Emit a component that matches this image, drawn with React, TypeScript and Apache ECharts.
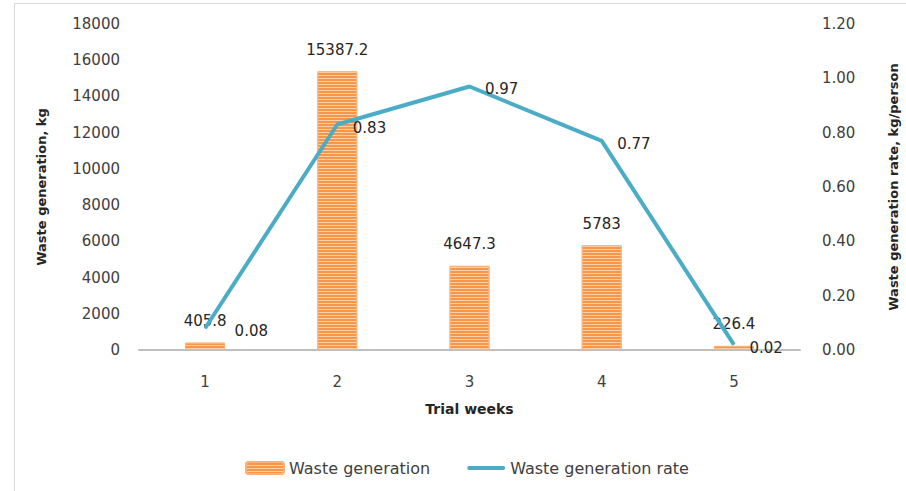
import React, { useEffect, useRef } from "react";
import * as echarts from "echarts";

const categories = ["1", "2", "3", "4", "5"];
const wasteGeneration = [405.8, 15387.2, 4647.3, 5783, 226.4];
const wasteRate = [0.08, 0.83, 0.97, 0.77, 0.02];

const FONT = "DejaVu Sans";
const TXT = "#404040";

export default function App() {
  const ref = useRef<HTMLDivElement>(null);
  useEffect(() => {
    if (!ref.current) return;
    const chart = echarts.init(ref.current, null, { renderer: "svg" });
    chart.setOption({
      animation: false,
      backgroundColor: "#ffffff",
      textStyle: { fontFamily: FONT },
      graphic: [
        {
          type: "rect",
          shape: { x: 14.5, y: 3.5, width: 1200, height: 1200 },
          style: { fill: "none", stroke: "#D9D9D9", lineWidth: 1 },
          silent: true,
          z: -1,
        },
      ],
      grid: { left: 139, right: 106, top: 24, bottom: 141, outerBoundsMode: "none" },
      legend: {
        left: 240,
        top: 455,
        itemWidth: 38,
        itemHeight: 12,
        itemGap: 37,
        symbolKeepAspect: true,
        textStyle: { fontFamily: FONT, fontSize: 16, color: TXT },
        data: [
          { name: "Waste generation" },
          {
            name: "Waste generation rate",
            icon: "path://M2,0H36A2,2 0 0 1 36,4H2A2,2 0 0 1 2,0Z",
            itemStyle: { color: "#4BACC6" },
          },
        ],
      },
      xAxis: {
        type: "category",
        data: categories,
        name: "Trial weeks",
        nameLocation: "middle",
        nameGap: 52,
        nameTextStyle: { fontFamily: FONT, fontSize: 14, fontWeight: "bold", color: "#262626" },
        axisLine: { lineStyle: { color: "#BFBFBF", width: 2 } },
        axisTick: { show: false },
        axisLabel: { fontFamily: FONT, fontSize: 15, color: TXT, margin: 24 },
      },
      yAxis: [
        {
          type: "value",
          min: 0,
          max: 18000,
          interval: 2000,
          name: "Waste generation, kg",
          nameLocation: "middle",
          nameGap: 91,
          nameRotate: 90,
          nameTextStyle: { fontFamily: FONT, fontSize: 13, fontWeight: "bold", color: "#262626" },
          axisLine: { show: false },
          axisTick: { show: false },
          splitLine: { show: false },
          axisLabel: {
            fontFamily: FONT,
            fontSize: 15,
            color: TXT,
            margin: 19,
            formatter: (v: number) => String(v),
          },
        },
        {
          type: "value",
          min: 0,
          max: 1.2,
          interval: 0.2,
          name: "Waste generation rate, kg/person",
          nameLocation: "middle",
          nameGap: 87,
          nameRotate: 90,
          nameTextStyle: { fontFamily: FONT, fontSize: 13, fontWeight: "bold", color: "#262626" },
          axisLine: { show: false },
          axisTick: { show: false },
          splitLine: { show: false },
          axisLabel: {
            fontFamily: FONT,
            fontSize: 15,
            color: TXT,
            margin: 22,
            formatter: (v: number) => v.toFixed(2),
          },
        },
      ],
      series: [
        {
          name: "Waste generation",
          type: "bar",
          data: wasteGeneration,
          barWidth: 40,
          itemStyle: {
            color: "#F79646",
            borderColor: "#FAB27A",
            borderWidth: 1,
            decal: {
              symbol: "rect",
              symbolSize: 1,
              dashArrayX: [1, 0],
              dashArrayY: [1, 2],
              rotation: 0,
              color: "rgba(255,225,200,0.75)",
            },
          },
          label: {
            show: true,
            position: "top",
            distance: 14,
            fontFamily: FONT,
            fontSize: 15,
            color: "#262626",
          },
        },
        {
          name: "Waste generation rate",
          type: "line",
          yAxisIndex: 1,
          data: wasteRate.map((v, i) =>
            i === 0 ? { value: v, label: { offset: [14, 3] } } : v
          ),
          symbol: "circle",
          symbolSize: 1,
          itemStyle: { color: "#4BACC6" },
          lineStyle: { color: "#4BACC6", width: 4 },
          label: {
            show: true,
            position: "right",
            distance: 15,
            offset: [0, 3],
            fontFamily: FONT,
            fontSize: 15,
            color: "#262626",
            formatter: (p: any) => Number(p.value).toFixed(2),
          },
          z: 3,
        },
      ],
    });
    return () => chart.dispose();
  }, []);
  return (
    <div
      ref={ref}
      style={{ position: "fixed", left: 0, top: 0, width: 906, height: 491 }}
    />
  );
}
